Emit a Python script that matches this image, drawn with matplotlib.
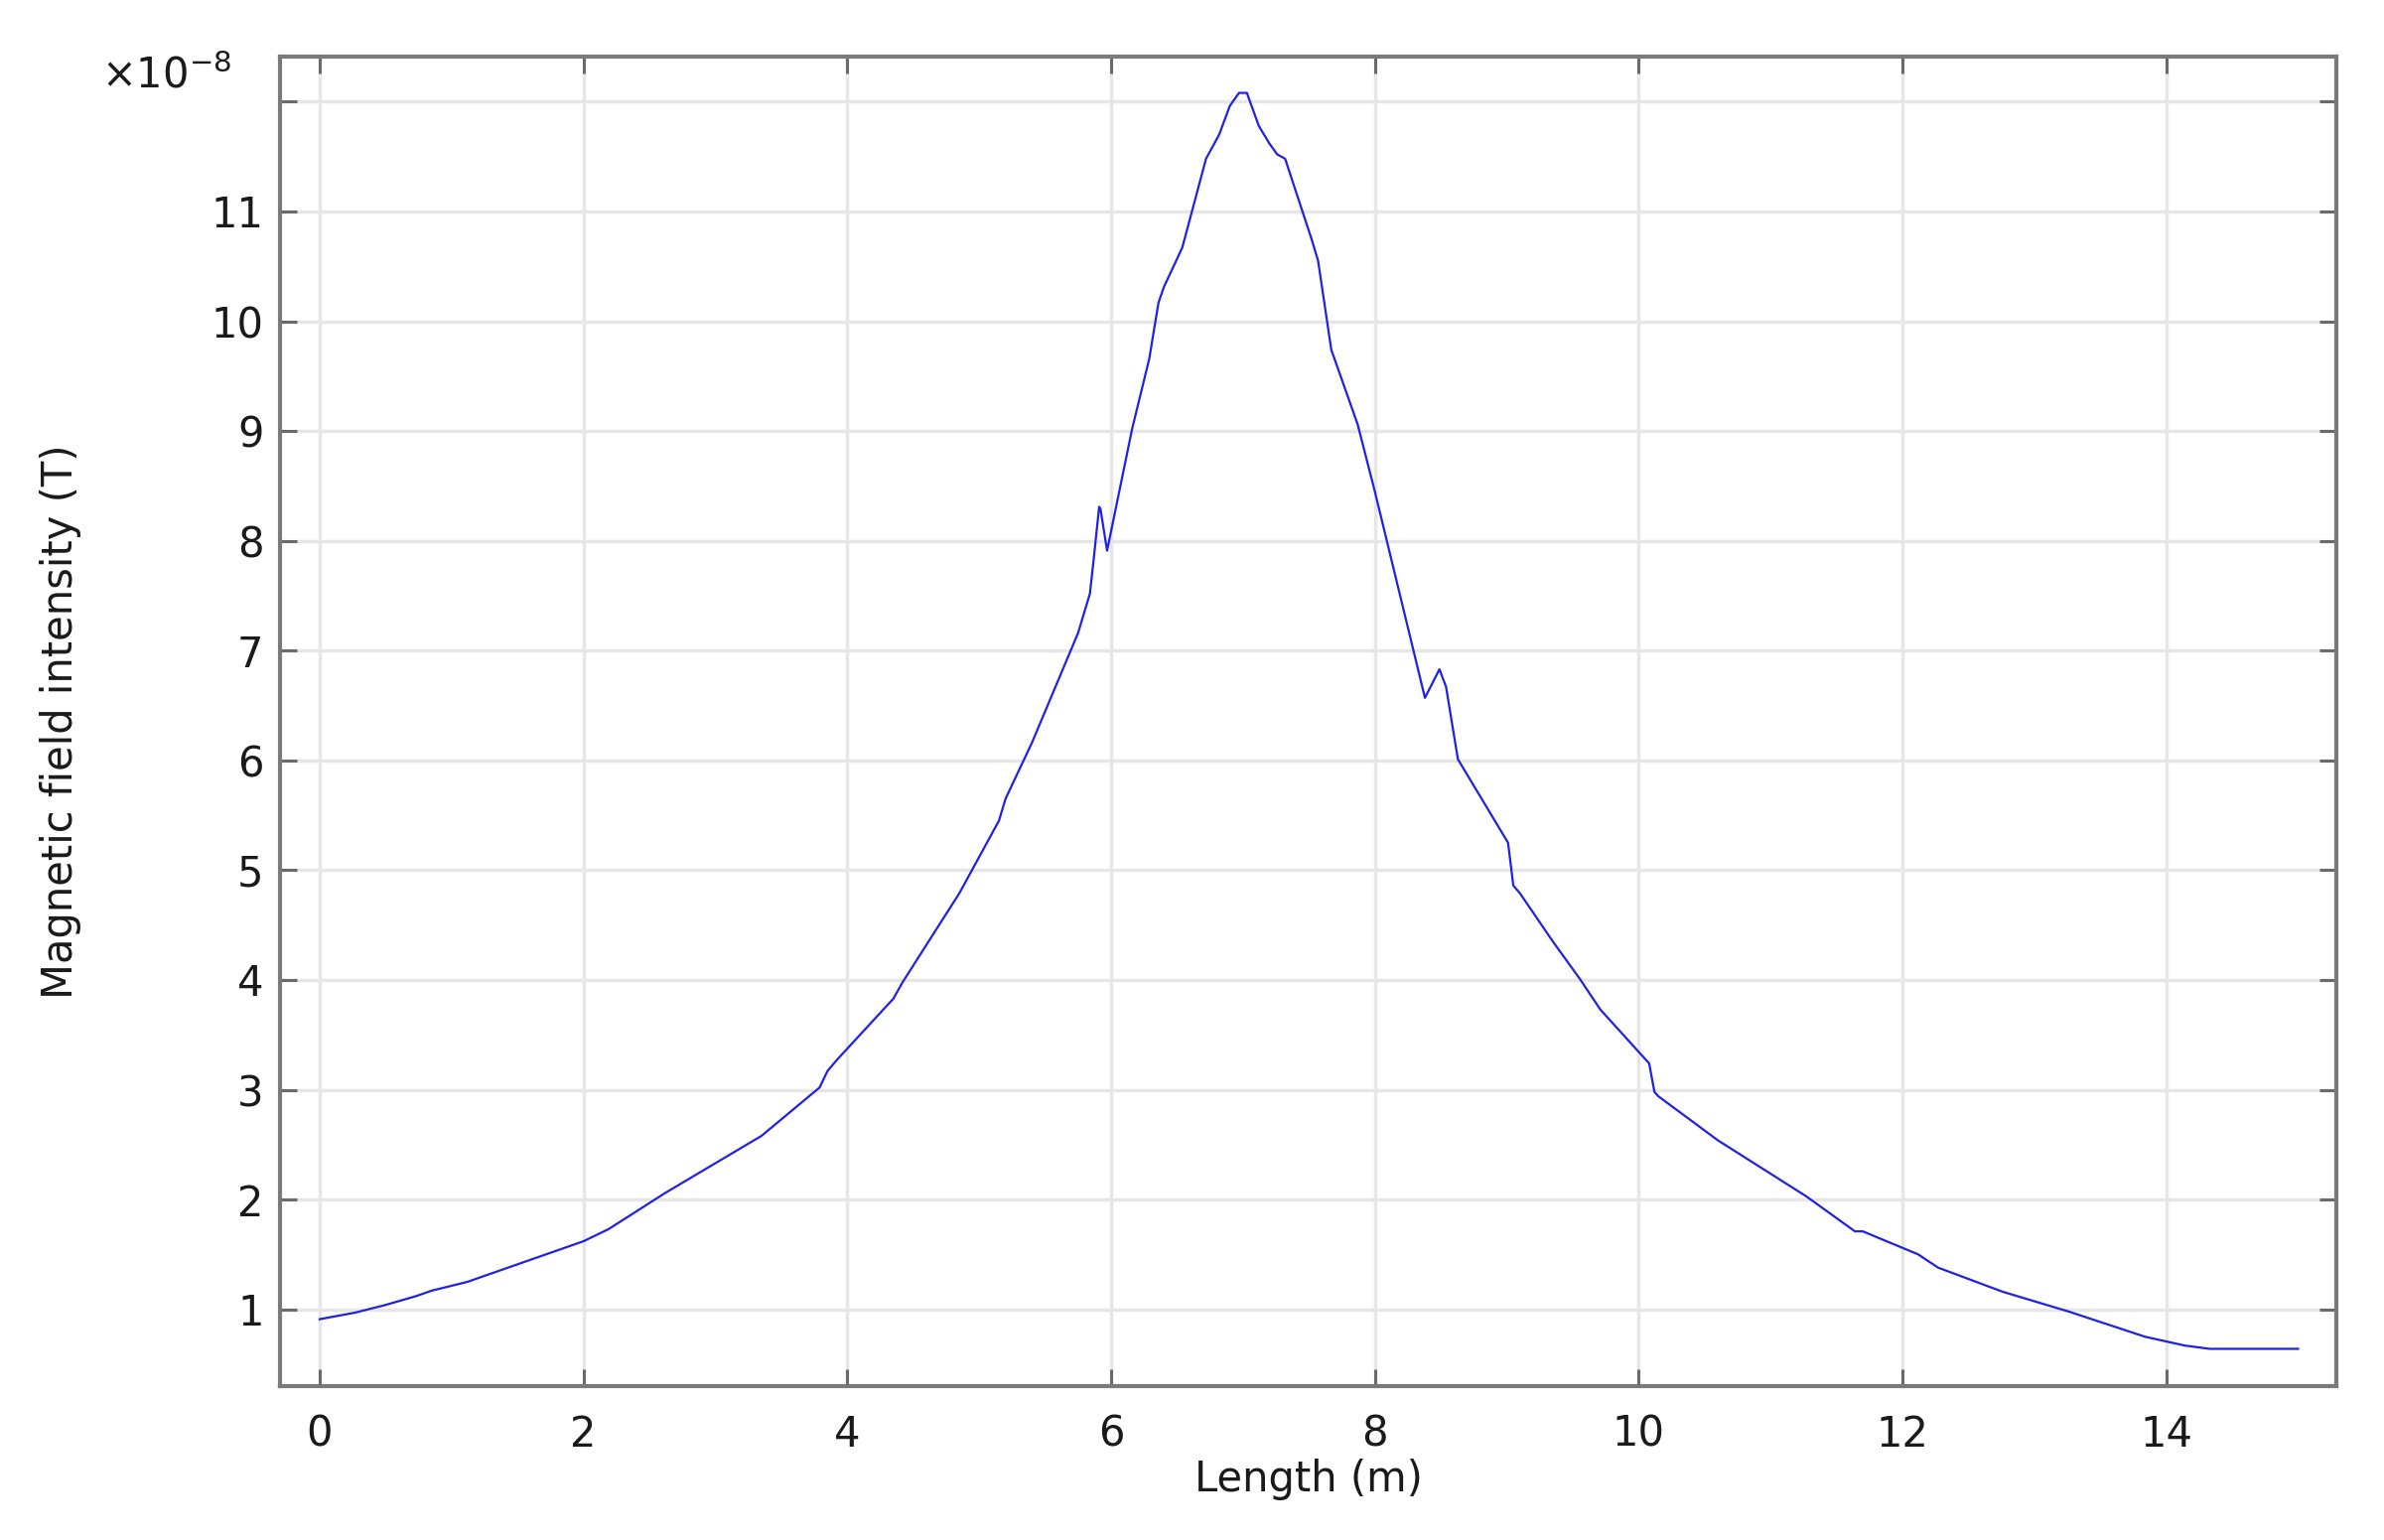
import matplotlib.pyplot as plt
import numpy as np

# arc length along the line (m)
length_m = [0.00, 0.27, 0.50, 0.73, 0.85, 1.12, 2.00, 2.19, 2.62, 3.35,
            3.79, 3.85, 3.92, 4.35, 4.42, 4.85, 5.15, 5.20, 5.40, 5.75,
            5.84, 5.87, 5.91, 5.92, 5.97, 6.16, 6.29, 6.36, 6.40, 6.54,
            6.72, 6.82, 6.90, 6.97, 7.03, 7.12, 7.20, 7.26, 7.32, 7.52,
            7.57, 7.67, 7.87, 8.00, 8.38, 8.49, 8.54, 8.63, 9.01, 9.05,
            9.10, 9.35, 9.56, 9.71, 10.08, 10.12, 10.15, 10.60, 11.27, 11.64,
            11.70, 12.12, 12.27, 12.76, 13.26, 13.84, 14.14, 14.33, 14.60, 15.00]

# magnetic field intensity, in units of 1e-8 T
field_e8 = [0.91, 0.97, 1.04, 1.12, 1.17, 1.25, 1.62, 1.73, 2.06, 2.58,
            3.02, 3.17, 3.27, 3.83, 3.98, 4.79, 5.45, 5.65, 6.16, 7.16,
            7.52, 7.85, 8.31, 8.29, 7.91, 9.02, 9.66, 10.17, 10.31, 10.67,
            11.48, 11.70, 11.96, 12.08, 12.08, 11.78, 11.62, 11.52, 11.48, 10.75,
            10.55, 9.74, 9.06, 8.45, 6.57, 6.83, 6.67, 6.01, 5.25, 4.86,
            4.79, 4.35, 4.00, 3.73, 3.24, 2.98, 2.94, 2.54, 2.03, 1.71,
            1.71, 1.50, 1.38, 1.16, 0.98, 0.75, 0.67, 0.64, 0.64, 0.64]

x_ticks = [0, 2, 4, 6, 8, 10, 12, 14]
y_ticks = [1, 2, 3, 4, 5, 6, 7, 8, 9, 10, 11, 12]
y_tick_labels = [str(v) for v in y_ticks[:-1]] + ['']

plt.rcParams['font.family'] = ['DejaVu Sans']
fs = 30
fig = plt.figure(figsize=(24.01, 15.51), dpi=100)
ax = fig.add_axes([0.1175, 0.0999, 0.8625, 0.8633])

ax.plot(length_m, field_e8, color='#2020e8', lw=1.6)

ax.set_xlim(-0.3, 15.29)
ax.set_ylim(0.3, 12.41)
ax.set_xticks(x_ticks)
ax.set_yticks(y_ticks)
ax.set_yticklabels(y_tick_labels)

ax.grid(True, color='#e6e6e6', lw=2.5)
ax.set_axisbelow(True)
for s in ax.spines.values():
    s.set_color('#7a7a7a')
    s.set_linewidth(3)
ax.tick_params(direction='in', length=12, width=2.2, color='#6a6a6a',
               top=True, right=True, labelsize=fs, pad=12, labelcolor='#1a1a1a')
ax.tick_params(axis='x', pad=20)

ax.set_xlabel('Length (m)', fontsize=fs, color='#1a1a1a', labelpad=2)
ax.set_ylabel('Magnetic field intensity (T)', fontsize=fs, color='#1a1a1a')
ax.yaxis.set_label_coords(-0.0966, 0.5)
fig.text(0.097, 0.951, r'$\times10^{-8}$', fontsize=fs, ha='right', va='center', color='#1a1a1a')

fig.savefig('out.png', dpi=100, facecolor='white')
